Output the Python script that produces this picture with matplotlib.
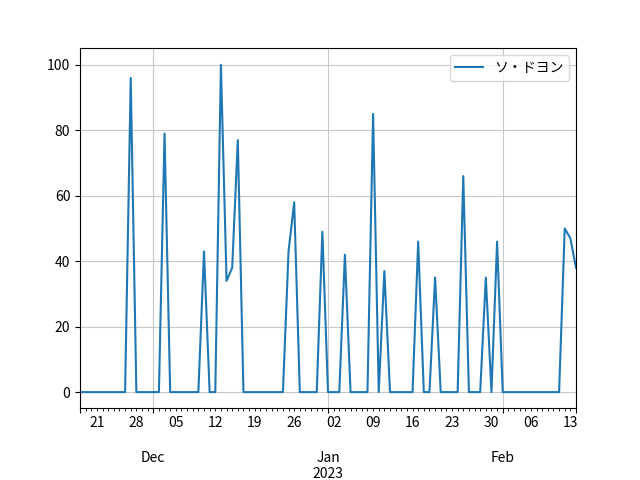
import pandas as pd
import matplotlib
matplotlib.use("Agg")
import matplotlib.pyplot as plt

plt.rcParams['font.family'] = ['Noto Sans CJK JP', 'DejaVu Sans']

# daily values, 2022-11-18 .. 2023-02-14
nov = [0, 0, 0, 0, 0, 0, 0, 0, 0, 96, 0, 0, 0]  # 18-30
dec = [0, 0, 79, 0, 0, 0, 0, 0, 0, 43, 0, 0, 100, 34, 38, 77,
       0, 0, 0, 0, 0, 0, 0, 0, 43, 58, 0, 0, 0, 0, 49]
jan = [0, 0, 0, 42, 0, 0, 0, 0, 85, 0, 37, 0, 0, 0, 0, 0,
       46, 0, 0, 35, 0, 0, 0, 0, 66, 0, 0, 0, 35, 0, 46]
feb = [0, 0, 0, 0, 0, 0, 0, 0, 0, 0, 0, 50, 47, 38]  # 1-14

start_date = "2022-11-18"
end_date = "2023-02-14"
name = "ソ・ドヨン"

werte = nov + dec + jan + feb
datumy = pd.date_range(start_date, end_date, freq="D")
serie = pd.Series(werte, index=datumy, name=name)

fig = plt.figure(figsize=(6.4, 4.8), dpi=100)
ax = fig.add_axes([0.125, 0.149, 0.775, 0.75])
serie.plot(ax=ax, legend=True)
ax.grid(True, color="#c8c8c8")
ax.legend(loc="upper right")

fig.savefig("out.png", dpi=100)
